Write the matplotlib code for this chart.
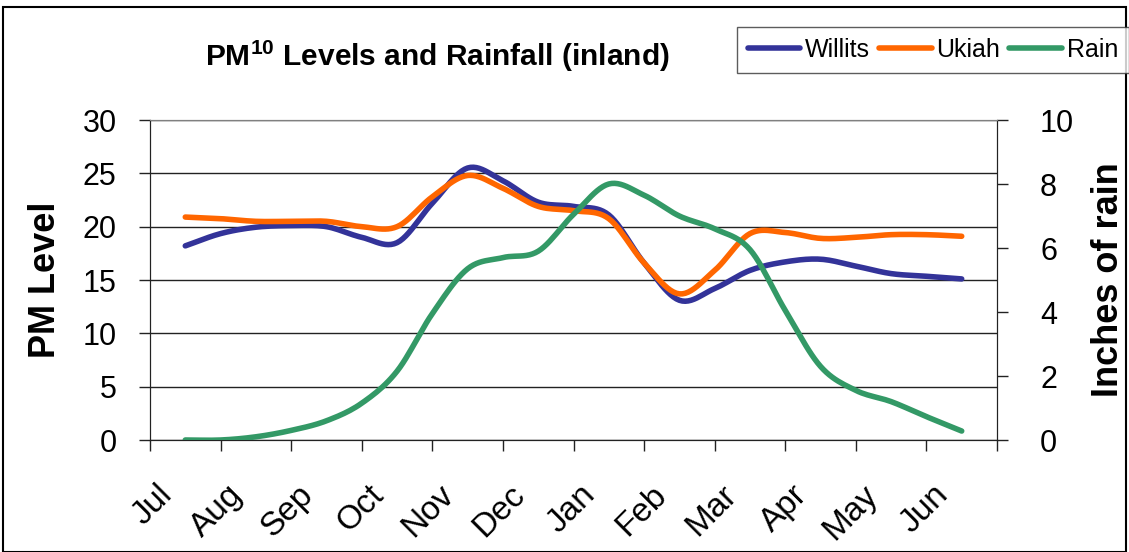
import numpy as np
import matplotlib.pyplot as plt
from matplotlib.patches import Rectangle
from matplotlib.transforms import ScaledTranslation

plt.rcParams['font.family'] = ['Liberation Sans', 'DejaVu Sans']
plt.rcParams['mathtext.fontset'] = 'custom'
plt.rcParams['mathtext.rm'] = 'Liberation Sans'
plt.rcParams['mathtext.bf'] = 'Liberation Sans:bold'

months = ['Jul', 'Aug', 'Sep', 'Oct', 'Nov', 'Dec', 'Jan', 'Feb', 'Mar', 'Apr', 'May', 'Jun']
# readings every half month, from mid-Jul to mid-Jun
pos = np.arange(23) * 0.5

willits = [18.2, 19.35, 19.95, 20.1, 20.0, 19.0, 18.5, 22.2, 25.5, 24.3, 22.3, 21.9,
           21.1, 16.6, 13.1, 14.2, 15.9, 16.7, 16.95, 16.3, 15.6, 15.35, 15.1]
ukiah = [20.9, 20.75, 20.5, 20.5, 20.5, 20.0, 20.0, 22.8, 24.8, 23.6, 21.9, 21.5,
         20.75, 16.6, 13.7, 15.9, 19.35, 19.45, 18.9, 19.0, 19.25, 19.25, 19.1]
rain = [0.0, 0.0, 0.1, 0.3, 0.6, 1.15, 2.15, 3.95, 5.35, 5.7, 5.9, 7.05,
        8.0, 7.65, 7.0, 6.6, 5.95, 4.05, 2.3, 1.55, 1.2, 0.73, 0.28]

c_willits = '#333399'
c_ukiah = '#ff6600'
c_rain = '#339966'


def smooth(x, y, n=12):
    # catmull-rom curve through the points, like a spreadsheet "smoothed line"
    x = np.asarray(x, float)
    y = np.asarray(y, float)
    px = np.concatenate([[2 * x[0] - x[1]], x, [2 * x[-1] - x[-2]]])
    py = np.concatenate([[2 * y[0] - y[1]], y, [2 * y[-1] - y[-2]]])
    t = np.linspace(0, 1, n, endpoint=False)[:, None]
    xs, ys = [], []
    for i in range(1, len(px) - 2):
        for p, out in ((px, xs), (py, ys)):
            p0, p1, p2, p3 = p[i - 1], p[i], p[i + 1], p[i + 2]
            seg = 0.5 * (2 * p1 + (-p0 + p2) * t + (2 * p0 - 5 * p1 + 4 * p2 - p3) * t ** 2
                         + (-p0 + 3 * p1 - 3 * p2 + p3) * t ** 3)
            out.append(seg.ravel())
    xs.append([x[-1]])
    ys.append([y[-1]])
    return np.concatenate(xs), np.concatenate(ys)


fig = plt.figure(figsize=(11.29, 5.52), dpi=100)
ax = fig.add_axes([150 / 1129, 1 - 440 / 552, 847 / 1129, 320 / 552])
ax2 = ax.twinx()

lw = 4.0
style = dict(lw=lw, solid_capstyle='round', solid_joinstyle='round', zorder=3)
l1, = ax.plot(*smooth(pos, willits), color=c_willits, **style)
l2, = ax.plot(*smooth(pos, ukiah), color=c_ukiah, **style)
l3, = ax2.plot(*smooth(pos, rain), color=c_rain, **style)

ax.set_xlim(-0.5, 11.5)
ax.set_ylim(0, 30)
ax2.set_ylim(0, 10)

ax.set_yticks(range(0, 31, 5))
ax2.set_yticks(range(0, 11, 2))
ax.yaxis.grid(True, color='#222222', lw=1.0)
ax.set_axisbelow(True)

# category boundaries get the tick marks, labels sit at the centres
ax.set_xticks(np.arange(-0.5, 12, 1))
ax.set_xticklabels([])
ax.set_xticks(np.arange(12), minor=True)
ax.set_xticklabels(months, minor=True, rotation=45, ha='right', va='center',
                   rotation_mode='anchor', fontsize=24)
ax.tick_params(axis='x', which='minor', length=0, pad=36)
ax.tick_params(axis='x', which='major', length=8, width=1, direction='out', color='#222222')
shift = ScaledTranslation(-18 / 100, 0, fig.dpi_scale_trans)
for lab in ax.get_xticklabels(minor=True):
    lab.set_transform(lab.get_transform() + shift)

ax.tick_params(axis='y', labelsize=22, length=8, width=1, pad=16, color='#222222')
ax2.tick_params(axis='y', labelsize=22, length=8, width=1, pad=23, color='#222222')

for a in (ax, ax2):
    a.spines['top'].set_color('#808080')
    a.spines['left'].set_color('#222222')
    a.spines['right'].set_color('#222222')
    a.spines['bottom'].set_color('#222222')

ax.set_ylabel('PM Level', fontsize=26, fontweight='bold', labelpad=14)
ax2.set_ylabel('Inches of rain', fontsize=26, fontweight='bold', labelpad=12)

fig.text(437 / 1129, 1 - 56 / 552, 'PM$^{\\mathbf{10}}$ Levels and Rainfall (inland)',
         ha='center', va='center', fontsize=21.5, fontweight='bold')

leg = fig.legend([l1, l2, l3], ['Willits', 'Ukiah', 'Rain'], ncol=3,
                 loc='center', bbox_to_anchor=(933 / 1129, 1 - 50 / 552),
                 fontsize=18, frameon=True, fancybox=False, edgecolor='#333333',
                 handlelength=2.1, handletextpad=0.2, columnspacing=0.35,
                 borderpad=0.45, borderaxespad=0)
leg.get_frame().set_linewidth(1.0)

fig.patches.append(Rectangle((3 / 1129, 0), 1123 / 1129, 1 - 7 / 552, transform=fig.transFigure,
                             fill=False, edgecolor='black', lw=1.5))

fig.savefig('out.png', dpi=100)
